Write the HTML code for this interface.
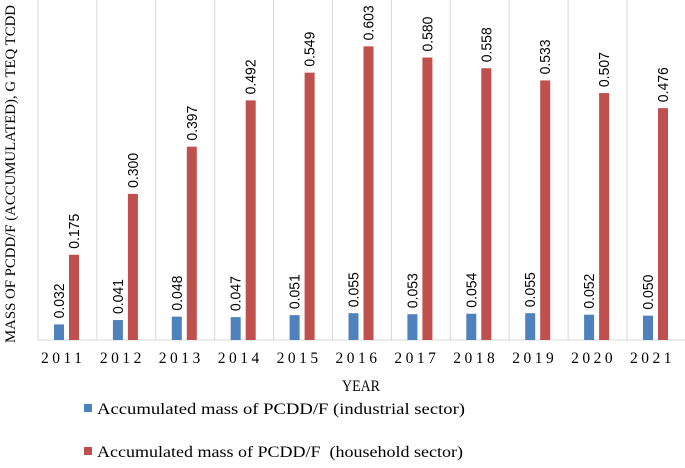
<!DOCTYPE html>
<html><head><meta charset="utf-8"><style>
body{margin:0;background:#fff}
svg{font-family:"Liberation Serif",serif}
</style></head><body>
<svg width="685" height="463">
<g id="grid"></g><g id="bars"></g><g id="labels"></g>
<text transform="translate(15,174) rotate(-90)" text-anchor="middle" font-size="15" textLength="338" lengthAdjust="spacingAndGlyphs" fill="#000">MASS OF PCDD/F (ACCUMULATED), G TEQ TCDD</text>
<text x="361" y="391" text-anchor="middle" font-size="15.5" textLength="38" lengthAdjust="spacingAndGlyphs">YEAR</text>
<rect x="84" y="404" width="8" height="8" fill="#4f81bd"/>
<text x="97" y="414" font-size="15.5" textLength="368" lengthAdjust="spacingAndGlyphs">Accumulated mass of PCDD/F (industrial sector)</text>
<rect x="84" y="447" width="8" height="8" fill="#c0504d"/>
<text x="97" y="457" font-size="15.5" textLength="366" lengthAdjust="spacingAndGlyphs">Accumulated mass of PCDD/F&#160; (household sector)</text>
</svg>
<script>
const years=["2011","2012","2013","2014","2015","2016","2017","2018","2019","2020","2021"];
const industrial=[0.032,0.041,0.048,0.047,0.051,0.055,0.053,0.054,0.055,0.052,0.050];
const household=[0.175,0.300,0.397,0.492,0.549,0.603,0.580,0.558,0.533,0.507,0.476];
const NS="http://www.w3.org/2000/svg";
const x0=38,step=58.9,base=340,k=487;
const y=v=>base-v*k;
const g=document.getElementById('grid'),b=document.getElementById('bars'),l=document.getElementById('labels');
function mk(tag,at,parent){const e=document.createElementNS(NS,tag);for(const a in at)e.setAttribute(a,at[a]);parent.appendChild(e);return e;}
for(let i=0;i<=years.length;i++){
  const ln=mk('line',{x1:x0+i*step,x2:x0+i*step,y1:0,y2:base,stroke:'#d9d9d9','stroke-width':1},g);
  
  
}
const ax=mk('line',{x1:x0,x2:x0+years.length*step,y1:base,y2:base,stroke:'#d9d9d9','stroke-width':1},g);


years.forEach((yr,i)=>{
  const cx=x0+i*step;
  [[industrial[i],16,'#4f81bd','industrial'],[household[i],31,'#c0504d','household']].forEach(([v,off,c,nm])=>{
    const r=mk('rect',{x:cx+off,y:y(v),width:10,height:v*k,fill:c},b);
    
    
    const t=mk('text',{transform:`translate(${cx+off+10},${y(v)-6}) rotate(-90)`,'font-size':15,'font-family':'"Liberation Sans",sans-serif',textLength:35,lengthAdjust:'spacingAndGlyphs'},l);
    t.textContent=v.toFixed(3);
    
    
  });
  const tk=mk('text',{x:cx+3,y:363,'font-size':15.5,'letter-spacing':'3.5'},l);
  tk.textContent=yr;
  
  
});
</script>
</body></html>
